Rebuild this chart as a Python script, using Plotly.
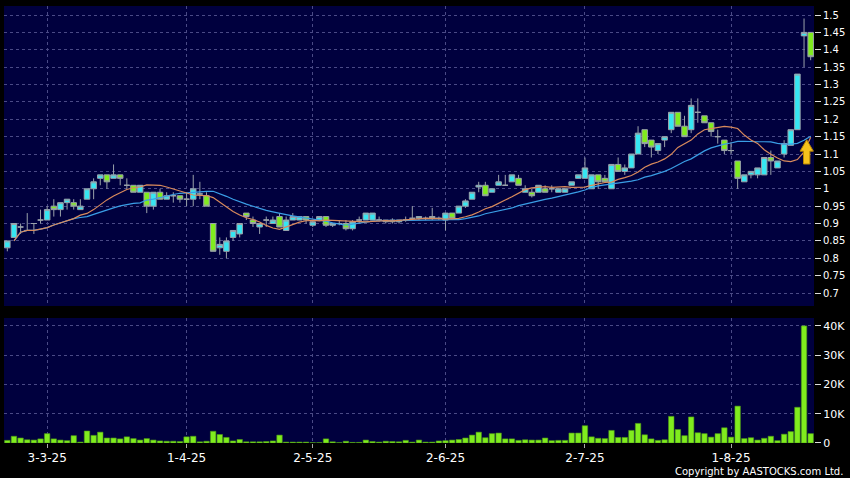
import plotly.graph_objects as go
import pandas as pd

# ---- data (trading-day index 0..121, 21-Feb-2025 .. 19-Aug-2025) ----
opens = [0.83, 0.86, 0.89, 0.88, 0.90, 0.91, 0.91, 0.95, 0.94, 0.96,
         0.96, 0.94, 0.97, 1.00, 1.03, 1.04, 1.03, 1.04, 1.01, 1.01,
         0.99, 0.99, 0.95, 0.99, 0.97, 0.98, 0.98, 0.97, 0.97, 0.985,
         0.98, 0.90, 0.83, 0.82, 0.86, 0.87, 0.93, 0.91, 0.89, 0.91,
         0.90, 0.92, 0.88, 0.91, 0.91, 0.92, 0.895, 0.91, 0.92, 0.895,
         0.90, 0.90, 0.885, 0.91, 0.91, 0.91, 0.91, 0.905, 0.91, 0.905,
         0.91, 0.915, 0.915, 0.915, 0.92, 0.915, 0.91, 0.93, 0.93, 0.95,
         0.97, 1.005, 1.01, 0.99, 1.01, 1.01, 1.02, 1.03, 0.99, 0.99,
         0.99, 1.00, 1.00, 0.99, 0.99, 1.01, 1.03, 1.03, 1.00, 1.04,
         1.03, 1.00, 1.07, 1.05, 1.06, 1.10, 1.17, 1.14, 1.11, 1.14,
         1.17, 1.22, 1.18, 1.17, 1.22, 1.21, 1.19, 1.15, 1.14, 1.11,
         1.08, 1.02, 1.04, 1.04, 1.04, 1.09, 1.06, 1.10, 1.125, 1.17,
         1.44, 1.45]
highs = [0.85, 0.90, 0.90, 0.93, 0.90, 0.94, 0.95, 0.97, 0.96, 0.97,
         0.97, 0.97, 1.00, 1.03, 1.04, 1.04, 1.07, 1.04, 1.03, 1.01,
         1.01, 0.99, 0.99, 1.00, 0.99, 0.99, 0.98, 0.99, 1.04, 1.02,
         0.99, 0.90, 0.86, 0.86, 0.88, 0.90, 0.93, 0.92, 0.90, 0.92,
         0.92, 0.93, 0.92, 0.93, 0.92, 0.92, 0.91, 0.92, 0.92, 0.90,
         0.91, 0.91, 0.91, 0.92, 0.93, 0.93, 0.92, 0.91, 0.915, 0.91,
         0.92, 0.95, 0.92, 0.92, 0.945, 0.92, 0.93, 0.93, 0.95, 0.97,
         0.99, 1.02, 1.02, 1.00, 1.04, 1.04, 1.04, 1.04, 1.01, 1.00,
         1.01, 1.01, 1.01, 1.00, 1.00, 1.02, 1.04, 1.09, 1.04, 1.04,
         1.04, 1.07, 1.09, 1.07, 1.10, 1.18, 1.17, 1.14, 1.13, 1.15,
         1.22, 1.22, 1.21, 1.26, 1.26, 1.21, 1.19, 1.17, 1.14, 1.135,
         1.08, 1.04, 1.05, 1.06, 1.09, 1.11, 1.08, 1.14, 1.17, 1.33,
         1.49, 1.45]
lows = [0.82, 0.86, 0.87, 0.88, 0.87, 0.90, 0.91, 0.92, 0.92, 0.94,
        0.94, 0.94, 0.97, 0.97, 1.01, 1.00, 1.03, 1.01, 1.00, 0.99,
        0.99, 0.93, 0.94, 0.97, 0.97, 0.96, 0.96, 0.95, 0.95, 0.97,
        0.95, 0.82, 0.81, 0.80, 0.85, 0.86, 0.91, 0.89, 0.87, 0.89,
        0.90, 0.89, 0.88, 0.91, 0.91, 0.90, 0.89, 0.91, 0.89, 0.89,
        0.895, 0.88, 0.88, 0.90, 0.91, 0.91, 0.905, 0.90, 0.90, 0.90,
        0.905, 0.91, 0.91, 0.91, 0.91, 0.91, 0.88, 0.91, 0.93, 0.945,
        0.97, 0.99, 0.98, 0.99, 1.01, 1.01, 1.02, 1.01, 0.99, 0.975,
        0.99, 0.99, 0.99, 0.99, 0.99, 1.01, 1.03, 1.03, 1.00, 1.00,
        1.02, 1.00, 1.05, 1.04, 1.06, 1.10, 1.12, 1.09, 1.10, 1.12,
        1.16, 1.18, 1.15, 1.16, 1.19, 1.19, 1.15, 1.13, 1.10, 1.10,
        1.00, 1.02, 1.03, 1.03, 1.04, 1.04, 1.06, 1.09, 1.125, 1.17,
        1.35, 1.37]
closes = [0.85, 0.90, 0.89, 0.88, 0.90, 0.91, 0.94, 0.94, 0.96, 0.97,
          0.95, 0.95, 1.00, 1.02, 1.04, 1.02, 1.04, 1.03, 1.01, 0.99,
          1.01, 0.95, 0.99, 0.97, 0.98, 0.98, 0.97, 0.97, 1.00, 0.985,
          0.95, 0.82, 0.84, 0.85, 0.88, 0.90, 0.92, 0.90, 0.90, 0.91,
          0.91, 0.89, 0.91, 0.92, 0.92, 0.91, 0.905, 0.92, 0.895, 0.90,
          0.90, 0.885, 0.905, 0.91, 0.93, 0.93, 0.91, 0.91, 0.905, 0.91,
          0.91, 0.915, 0.92, 0.915, 0.915, 0.915, 0.93, 0.915, 0.95, 0.965,
          0.99, 1.01, 0.98, 1.00, 1.02, 1.01, 1.04, 1.01, 1.00, 0.98,
          1.01, 0.99, 1.00, 1.00, 1.00, 1.02, 1.04, 1.06, 1.04, 1.02,
          1.02, 1.07, 1.05, 1.06, 1.10, 1.16, 1.13, 1.12, 1.13, 1.15,
          1.22, 1.18, 1.15, 1.24, 1.22, 1.19, 1.165, 1.15, 1.11, 1.11,
          1.03, 1.04, 1.05, 1.06, 1.09, 1.08, 1.08, 1.13, 1.17, 1.33,
          1.45, 1.38]
volumes = [900, 2300, 1700, 1100, 1000, 1400, 3200, 1400, 1000, 800,
           2500, 300, 4100, 2600, 3700, 1700, 1700, 1400, 2100, 1500,
           1000, 1500, 1000, 700, 600, 600, 500, 2100, 2300, 400,
           600, 4000, 2900, 1900, 700, 1200, 400, 400, 400, 500,
           700, 2700, 300, 300, 300, 300, 100, 100, 1400, 400,
           100, 600, 200, 200, 1000, 500, 300, 600, 500, 400,
           900, 300, 1000, 300, 300, 700, 800, 1000, 1200, 1700,
           2700, 3700, 1800, 3200, 3400, 1400, 1400, 900, 1100, 1000,
           1000, 1700, 800, 900, 900, 3400, 3400, 5900, 2100, 1600,
           1500, 4300, 1900, 1900, 4300, 6700, 2800, 1400, 900, 1100,
           9100, 4600, 2500, 8900, 3500, 3200, 2000, 3200, 5200, 2000,
           12600, 1500, 1800, 1000, 1600, 2300, 800, 3000, 3900, 12200,
           40000, 3200]

tick_pos = [6, 27, 46, 66, 87, 109]
tick_labels = ["3-3-25", "1-4-25", "2-5-25", "2-6-25", "2-7-25", "1-8-25"]
price_ticks = [0.7, 0.75, 0.8, 0.85, 0.9, 0.95, 1.0, 1.05, 1.1, 1.15,
               1.2, 1.25, 1.3, 1.35, 1.4, 1.45, 1.5]
price_labels = ["0.7", "0.75", "0.8", "0.85", "0.9", "0.95", "1", "1.05", "1.1",
                "1.15", "1.2", "1.25", "1.3", "1.35", "1.4", "1.45", "1.5"]
vol_ticks = [0, 10000, 20000, 30000, 40000]
vol_labels = ["0", "10K", "20K", "30K", "40K"]
ma_short, ma_long = 10, 20

idx = list(range(len(closes)))
cs = pd.Series(closes)
ma10 = cs.rolling(ma_short, min_periods=1).mean().shift(1)
ma20 = cs.rolling(ma_long, min_periods=1).mean().shift(1)

CYAN = "#36e6f2"
LIME = "#80ec1e"
GRID = "#4a4a86"
BG_PLOT = "#00003e"

fig = go.Figure()
fig.add_trace(go.Candlestick(
    x=idx, open=opens, high=highs, low=lows, close=closes,
    increasing=dict(fillcolor=CYAN, line=dict(color="#9aa2aa", width=1)),
    decreasing=dict(fillcolor=LIME, line=dict(color="#9aa2aa", width=1)),
    whiskerwidth=0, xaxis="x", yaxis="y", showlegend=False, hoverinfo="skip"))
fig.add_trace(go.Scatter(x=idx, y=ma20, mode="lines",
                         line=dict(color="#3a9ee6", width=1.2),
                         xaxis="x", yaxis="y", showlegend=False, hoverinfo="skip"))
fig.add_trace(go.Scatter(x=idx, y=ma10, mode="lines",
                         line=dict(color="#d98a5c", width=1.2),
                         xaxis="x", yaxis="y", showlegend=False, hoverinfo="skip"))
fig.add_trace(go.Bar(x=idx, y=volumes, marker=dict(color=LIME, line=dict(color="#4e9a16", width=0.6)),
                     width=0.82, xaxis="x", yaxis="y2", showlegend=False, hoverinfo="skip"))

# upward arrow marker under the last moving-average point
last = idx[-1]
tip = float(ma20.iloc[-1]) - 0.01
cx = last - 0.6
path = (f"M {cx} {tip} L {cx + 1.0} {tip - 0.033} L {cx + 0.48} {tip - 0.033} "
        f"L {cx + 0.48} {tip - 0.07} L {cx - 0.48} {tip - 0.07} L {cx - 0.48} {tip - 0.033} "
        f"L {cx - 1.0} {tip - 0.033} Z")
fig.add_shape(type="path", path=path, xref="x", yref="y",
              fillcolor="#f6c21c", line=dict(color="#b98500", width=1))

fig.update_layout(
    width=850, height=478,
    paper_bgcolor="#000000", plot_bgcolor=BG_PLOT,
    margin=dict(l=4, r=36, t=6, b=35, autoexpand=False),
    boxgap=0.17, boxgroupgap=0, bargap=0.15,
    font=dict(family="DejaVu Sans", color="#ffffff", size=10),
    xaxis=dict(range=[-0.5, last + 0.5], anchor="y2",
               tickvals=tick_pos, ticktext=tick_labels,
               tickfont=dict(size=12, color="#ffffff"),
               ticks="outside", ticklen=4, tickcolor="#aaaaaa",
               showgrid=True, gridcolor=GRID, griddash="3px,3px", gridwidth=1,
               zeroline=False, showline=False,
               rangeslider=dict(visible=False)),
    yaxis=dict(domain=[0.3135, 1.0], range=[0.6626, 1.526], side="right",
               tickvals=price_ticks, ticktext=price_labels,
               ticks="outside", ticklen=6, tickcolor="#dddddd",
               tickfont=dict(size=10, color="#ffffff"),
               showgrid=True, gridcolor=GRID, griddash="3px,3px", gridwidth=1,
               zeroline=False, showline=False),
    yaxis2=dict(domain=[0.0, 0.286], range=[0, 42700], side="right",
                tickvals=vol_ticks, ticktext=vol_labels,
                ticks="outside", ticklen=6, tickcolor="#dddddd",
                tickfont=dict(size=11, color="#ffffff"),
                showgrid=True, gridcolor=GRID, griddash="3px,3px", gridwidth=1,
                zeroline=False, showline=False),
)
fig.add_annotation(text="Copyright by AASTOCKS.com Ltd.", xref="paper", yref="paper",
                   x=1.0385, y=-0.066, xanchor="right", yanchor="middle",
                   showarrow=False, font=dict(size=10, color="#ffffff", family="DejaVu Sans"))

fig.write_html("out.html", config={"displayModeBar": False},
               post_script="document.body.style.margin='0';document.body.style.background='#000';")
